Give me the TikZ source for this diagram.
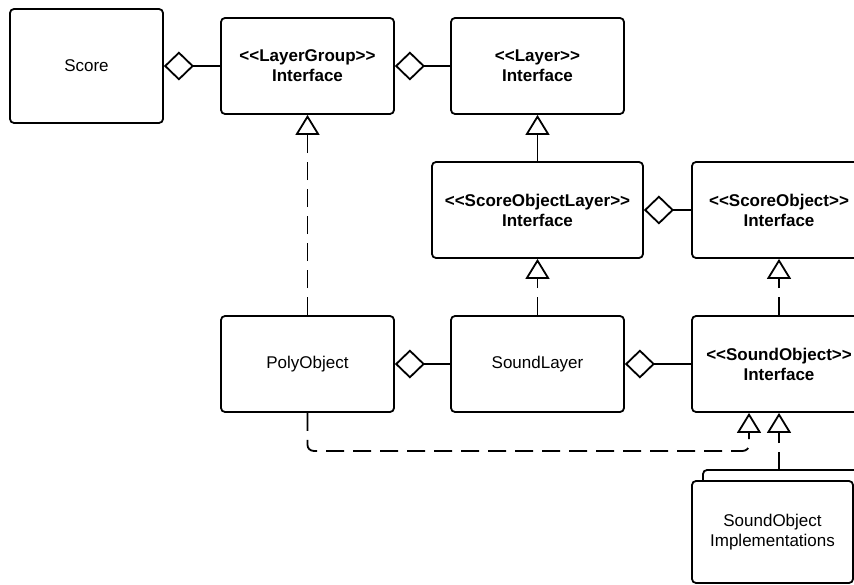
\documentclass[tikz,border=0pt]{standalone}
\usepackage{fontspec}
\setmainfont{Liberation Sans}[Ligatures=TeXOff]
\usetikzlibrary{arrows.meta}
\begin{document}
\begin{tikzpicture}[x=1pt,y=-1pt,
  every node/.style={font=\fontsize{17pt}{20pt}\selectfont},
  box/.style={draw,line width=1.8pt,rounded corners=4pt,align=center,inner sep=0pt,fill=white},
  std/.style={box,minimum width=173pt,minimum height=96pt},
  conn/.style={line width=1.8pt},
  dsh/.style={conn,dash pattern=on 18pt off 9pt},
  agg/.style={conn,{Diamond[open,length=30pt,width=29pt,line width=1.8pt]}-},
  inh/.style={-{Triangle[open,length=20pt,width=24pt,line width=1.8pt]}}
]
\useasboundingbox (0,0) rectangle (854,585);
\clip (0,0) rectangle (854,585);
\node[box,minimum width=153pt,minimum height=114pt] (score) at (86.5,66) {Score};
\node[std] (lg) at (307.5,66) {\textbf{<<LayerGroup>>}\\\textbf{Interface}};
\node[std] (layer) at (537.5,66) {\textbf{<<Layer>>}\\\textbf{Interface}};
\node[box,minimum width=211pt,minimum height=96pt] (sol) at (537.5,210) {\textbf{<<ScoreObjectLayer>>}\\\textbf{Interface}};
\node[box,minimum width=174pt,minimum height=96pt] (so) at (779,210) {\textbf{<<ScoreObject>>}\\\textbf{Interface}};
\node[std] (poly) at (307.5,364) {PolyObject};
\node[std] (sl) at (537.5,364) {SoundLayer};
\node[box,minimum width=174pt,minimum height=96pt] (snd) at (779,364) {\textbf{<<SoundObject>>}\\\textbf{Interface}};
\node[box,minimum width=161pt,minimum height=102pt] (implback) at (783.5,521) {};
\node[box,minimum width=161pt,minimum height=102pt] (impl) at (772.5,532) {SoundObject\\Implementations};
% aggregation
\draw[agg] (score.east) -- (lg.west);
\draw[agg] (lg.east) -- (layer.west);
\draw[agg] (sol.east) -- (so.west);
\draw[agg] (poly.east) -- (sl.west);
\draw[agg] (sl.east) -- (snd.west);
% inheritance
\draw[conn,inh] (sol.north) -- (layer.south);
\draw[dsh,inh] (poly.north) -- (lg.south);
\draw[dsh,inh] (sl.north) -- (sol.south);
\draw[dsh,inh] (snd.north) -- (so.south);
\coordinate (t1) at ([xshift=-30pt]snd.south);
\draw[dsh,inh,rounded corners=6pt] (poly.south) |- ([yshift=-38pt]t1) -- (t1);
\coordinate (imptop) at (779,470);
\draw[dsh,inh] (imptop) -- (snd.south);
\end{tikzpicture}
\end{document}
